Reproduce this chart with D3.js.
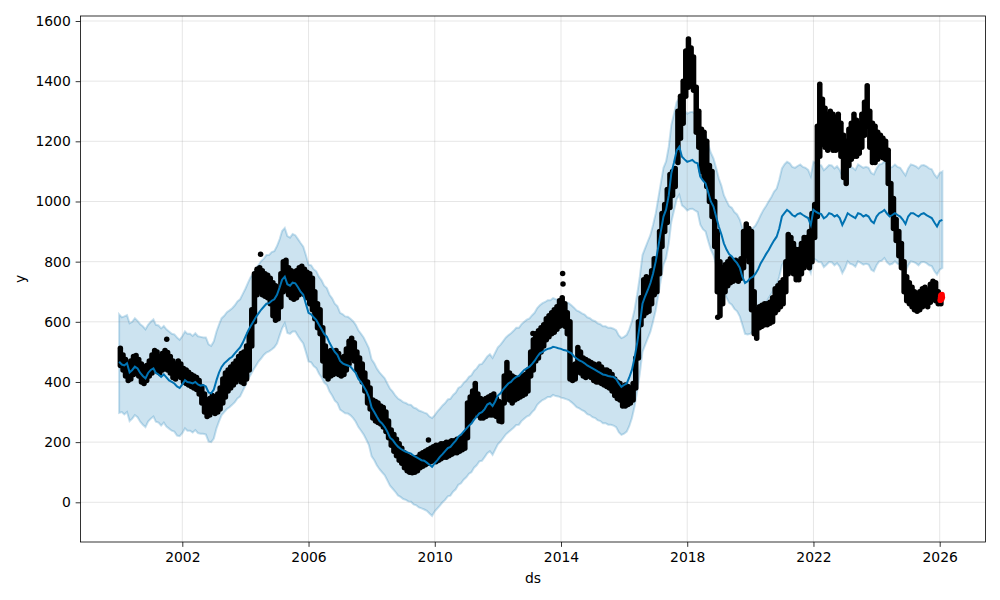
<!DOCTYPE html>
<html><head><meta charset="utf-8">
<script src="https://cdn.jsdelivr.net/npm/d3@7"></script>
<style>body{margin:0;background:#fff}svg{display:block}text{font-family:"DejaVu Sans",sans-serif}</style>
</head><body><svg id="chart" width="1000" height="600"></svg>
<script>
// Monthly observations, Jan 2000 .. Jan 2026 (low / high of the daily points in each month)
const obsLo = [
455,440,420,405,410,425,430,420,400,395,405,420,
430,445,440,430,440,445,440,430,415,410,420,415,
400,395,390,385,380,375,360,330,300,285,290,300,
295,300,310,330,350,370,380,390,400,410,400,395,
410,440,520,600,690,700,690,685,680,660,620,605,
610,650,700,710,690,680,675,680,690,700,690,680,
660,640,610,580,560,470,420,410,420,425,430,425,
420,425,440,460,480,470,440,420,400,370,330,310,
280,270,265,260,250,235,215,190,170,155,140,130,
115,105,100,98,100,105,115,120,125,130,135,140,
135,140,145,150,150,155,160,165,165,170,175,180,
215,270,285,300,290,280,280,285,290,290,290,285,
270,268,330,390,340,330,340,345,350,355,360,370,
420,440,470,480,500,520,540,550,560,565,575,585,
590,585,560,410,405,410,440,430,420,415,420,415,
405,400,400,395,390,385,380,370,355,345,340,320,
320,325,330,340,380,480,590,620,630,635,660,690,
700,760,850,900,930,980,1020,1050,1130,1210,1260,1350,
1380,1390,1370,1230,1180,1100,1080,1050,1000,950,850,700,
620,660,700,720,730,735,740,735,745,780,820,800,
640,560,545,580,585,590,590,595,600,630,640,650,
660,700,760,780,760,740,740,760,780,790,780,800,
880,950,1150,1190,1180,1170,1180,1170,1170,1175,1150,1080,
1060,1120,1140,1150,1150,1160,1180,1220,1250,1180,1130,1130,
1140,1150,1145,1140,1060,960,910,870,820,780,700,670,
660,650,640,635,640,650,660,650,665,675,670,660,
660];
const obsHi = [
512,490,475,460,470,485,488,475,460,450,455,470,
490,505,500,485,495,505,498,485,470,460,470,460,
445,440,432,425,420,415,405,385,360,340,345,355,
350,360,380,410,430,440,450,460,470,485,495,500,
520,560,640,760,775,780,770,760,755,745,730,720,
700,760,800,805,780,770,765,770,780,785,775,765,
760,745,700,660,640,580,520,500,505,500,505,495,
480,485,510,535,545,530,500,480,460,430,400,380,
340,335,330,320,315,300,270,240,225,210,195,180,
165,155,150,145,148,150,160,165,170,175,180,185,
190,190,195,195,200,200,205,205,210,210,215,225,
330,350,370,390,360,345,340,345,350,355,360,345,
335,330,420,465,430,420,415,410,415,420,425,440,
500,540,560,570,580,590,610,620,630,640,650,670,
680,660,630,600,455,460,515,500,480,475,470,465,
460,455,460,450,440,440,435,425,410,400,395,380,
390,385,380,395,480,600,680,740,750,745,770,810,
800,900,960,990,1040,1090,1100,1110,1300,1350,1400,1500,
1540,1510,1480,1380,1300,1240,1230,1200,1120,1100,1000,900,
800,780,790,800,810,800,805,800,810,900,925,910,
900,700,640,650,655,660,660,665,680,710,720,730,
740,800,890,880,860,840,840,860,880,880,900,960,
990,1250,1390,1340,1310,1290,1300,1290,1280,1290,1260,1220,
1200,1240,1260,1290,1270,1260,1290,1330,1385,1300,1260,1250,
1230,1220,1210,1200,1170,1060,1010,940,900,860,800,750,
730,715,700,690,700,710,715,705,725,735,730,700,
690];
// Isolated observed points
const extraDates = ["2001-07-05","2004-06-25","2009-10-20","2011-04-15","2013-02-10","2014-01-20","2014-01-24","2018-12-20"];
const extraValues = [542,825,207,395,561,761,726,615];
// Held-out points (red)
const redDates = ["2026-01-08","2026-01-12","2026-01-15","2026-01-20","2026-01-23","2026-01-27","2026-01-30"];
const redValues = [672,680,688,684,676,690,682];
// Forecast, monthly Jan 2000 .. Feb 2026
const yhat = [
467,458,455,462,432,440,451,445,430,420,412,430,
440,445,430,425,417,425,415,405,400,395,385,380,
392,406,400,398,395,400,392,388,390,385,365,362,
375,406,430,450,462,470,478,484,495,505,515,530,
550,570,585,600,615,628,640,650,660,662,670,675,
690,715,740,750,725,720,730,728,715,700,690,660,
630,625,615,606,590,575,560,550,530,515,500,490,
470,462,458,455,451,440,430,410,400,385,370,350,
315,300,285,270,262,250,235,215,207,195,185,178,
173,168,165,162,155,150,145,140,138,132,125,118,
130,140,151,160,170,180,184,195,205,218,225,235,
245,255,262,275,285,296,300,310,325,330,320,335,
355,362,375,385,395,400,410,417,420,430,440,445,
451,460,470,484,495,500,506,510,512,517,515,512,
510,506,505,500,495,485,478,472,468,462,455,450,
445,440,435,430,425,423,420,418,417,410,395,384,
390,395,415,440,480,530,590,660,685,705,729,760,
800,851,900,950,973,1020,1094,1130,1170,1182,1149,1140,
1132,1135,1138,1130,1127,1083,1070,1060,1030,1000,983,950,
917,890,861,840,825,817,805,795,780,750,729,735,
745,750,760,775,795,810,825,839,855,870,883,910,
950,962,972,965,955,950,958,961,955,950,945,922,
972,965,961,958,944,950,961,958,950,955,945,922,
940,961,955,950,945,961,958,950,955,950,935,928,
950,961,965,972,960,950,955,961,955,950,939,925,
950,961,961,955,950,958,961,955,950,945,930,917,
935,939];
const yUpper = [
625,615,618,622,595,600,612,603,592,585,575,590,
600,608,590,588,578,586,575,568,560,558,548,540,
552,568,560,560,553,562,552,550,548,548,525,520,
535,568,590,612,620,632,638,645,655,668,675,692,
710,730,748,760,778,788,802,810,822,822,832,835,
852,875,902,912,885,880,892,888,875,862,850,822,
790,788,775,768,750,738,720,712,690,678,660,652,
630,625,618,617,610,602,590,572,560,548,530,512,
475,462,445,432,422,412,395,378,368,355,345,340,
333,330,325,324,315,312,305,302,298,295,285,280,
290,302,311,322,330,342,344,357,365,380,385,397,
405,417,422,437,445,458,460,472,485,492,480,497,
515,524,535,547,555,562,570,580,580,592,600,607,
611,622,630,646,655,662,666,672,672,679,675,674,
670,668,665,662,655,647,638,634,628,624,615,612,
605,602,595,592,585,585,580,580,577,572,555,546,
550,557,575,602,640,692,750,822,845,867,889,922,
960,1013,1060,1112,1133,1182,1254,1292,1330,1344,1309,1302,
1292,1297,1298,1292,1287,1245,1230,1222,1190,1162,1143,1112,
1077,1052,1021,1002,985,979,965,957,940,912,889,897,
905,912,920,937,955,972,985,1001,1015,1032,1043,1072,
1110,1124,1132,1127,1115,1112,1118,1123,1115,1112,1105,1084,
1132,1127,1121,1120,1104,1112,1121,1120,1110,1117,1105,1084,
1100,1123,1115,1112,1105,1123,1118,1112,1115,1112,1095,1090,
1110,1123,1125,1134,1120,1112,1115,1123,1115,1112,1099,1087,
1110,1123,1121,1117,1110,1120,1121,1117,1110,1107,1090,1079,
1095,1100];
const yLower = [
297,300,292,300,270,278,290,283,268,258,250,268,
278,285,268,265,255,265,252,245,238,235,222,220,
230,246,238,238,232,240,230,228,228,225,202,200,
212,246,268,290,300,310,316,324,333,345,352,370,
388,410,423,440,453,468,478,490,498,502,508,515,
528,555,578,595,563,560,568,568,553,540,528,500,
468,465,453,446,428,415,398,390,368,355,338,330,
308,302,296,295,289,280,268,250,238,225,208,190,
153,140,123,110,100,90,73,55,45,35,23,18,
11,8,3,2,-7,-10,-17,-20,-24,-28,-37,-45,
-30,-20,-11,0,8,20,22,35,43,58,63,75,
83,95,100,115,123,136,138,150,163,170,158,175,
193,202,213,225,233,240,248,257,258,270,278,285,
289,300,308,324,333,340,344,350,350,357,353,352,
348,346,343,340,333,325,316,312,306,302,293,290,
283,280,273,270,263,263,258,258,255,250,233,224,
228,235,253,280,318,370,428,500,523,545,567,600,
638,691,738,790,811,860,932,970,1008,1022,987,980,
970,975,976,970,965,923,908,900,868,840,821,790,
755,730,699,680,663,657,643,635,618,590,560,558,
560,570,598,615,633,650,663,679,693,710,721,750,
788,802,810,805,793,790,796,801,793,790,783,762,
810,805,799,798,782,790,799,798,788,795,783,762,
778,801,793,790,783,801,796,790,793,790,773,768,
788,801,803,812,798,790,793,801,793,790,777,765,
788,801,799,795,788,798,799,795,788,785,768,757,
773,779];
const xTickYears = [2002,2006,2010,2014,2018,2022,2026];
const yTickValues = [0,200,400,600,800,1000,1200,1400,1600];

const svg = d3.select("#chart");
const L = 80.5, R = 985.5, T = 16, B = 542;
const x = d3.scaleUtc().domain([new Date(Date.UTC(2002,0,1)), new Date(Date.UTC(2026,0,1))]).range([182.3, 939.7]);
const y = d3.scaleLinear().domain([0,1600]).range([502.3, 21]);
const fdates = yhat.map((_, i) => new Date(Date.UTC(2000, i, 1)));
const odates = obsLo.map((_, i) => new Date(Date.UTC(2000, i, 15)));
const pd = s => new Date(s + "T00:00:00Z");

svg.append("rect").attr("width",1000).attr("height",600).attr("fill","#fff");
svg.append("defs").append("clipPath").attr("id","clip").append("rect")
  .attr("x",L).attr("y",T).attr("width",R-L).attr("height",B-T);
const g = svg.append("g").attr("clip-path","url(#clip)");

// uncertainty band
const band = fdates.map((d,i)=>({d, lo:yLower[i], hi:yUpper[i]}));
g.append("path").datum(band)
  .attr("d", d3.area().x(p=>x(p.d)).y0(p=>y(p.lo)).y1(p=>y(p.hi)))
  .attr("fill","rgba(0,114,178,0.2)").attr("stroke","rgba(0,114,178,0.22)").attr("stroke-width",2);

// grid
g.selectAll(".gx").data(xTickYears).enter().append("line")
  .attr("x1",d=>x(new Date(Date.UTC(d,0,1)))).attr("x2",d=>x(new Date(Date.UTC(d,0,1))))
  .attr("y1",T).attr("y2",B).attr("stroke","rgba(128,128,128,0.2)").attr("stroke-width",1);
g.selectAll(".gy").data(yTickValues).enter().append("line")
  .attr("x1",L).attr("x2",R).attr("y1",d=>y(d)).attr("y2",d=>y(d))
  .attr("stroke","rgba(128,128,128,0.2)").attr("stroke-width",1);

// observed points (monthly spread)
g.selectAll(".obs").data(odates).enter().append("line")
  .attr("x1",d=>x(d)).attr("x2",d=>x(d))
  .attr("y1",(d,i)=>y(obsLo[i])).attr("y2",(d,i)=>y(obsHi[i]))
  .attr("stroke","#000").attr("stroke-width",5.5).attr("stroke-linecap","round");
g.selectAll(".ext").data(extraDates).enter().append("circle")
  .attr("cx",d=>x(pd(d))).attr("cy",(d,i)=>y(extraValues[i])).attr("r",2.75).attr("fill","#000");

// forecast line
g.append("path").datum(fdates.map((d,i)=>({d, v:yhat[i]})))
  .attr("d", d3.line().x(p=>x(p.d)).y(p=>y(p.v)))
  .attr("fill","none").attr("stroke","#0072B2").attr("stroke-width",2);

// red points
g.selectAll(".red").data(redDates).enter().append("circle")
  .attr("cx",d=>x(pd(d))).attr("cy",(d,i)=>y(redValues[i])).attr("r",2.9).attr("fill","#ff0000");

// axes
const fs = "13.9px";
const xa = svg.append("g").attr("transform",`translate(0,${B})`)
  .call(d3.axisBottom(x).tickValues(xTickYears.map(v=>new Date(Date.UTC(v,0,1))))
    .tickFormat(d3.utcFormat("%Y")).tickSize(4.86).tickPadding(4.86).tickSizeOuter(0));
const ya = svg.append("g").attr("transform",`translate(${L},0)`)
  .call(d3.axisLeft(y).tickValues(yTickValues).tickFormat(d3.format("d")).tickSize(4.86).tickPadding(4.86).tickSizeOuter(0));
[xa,ya].forEach(a=>{
  a.select(".domain").remove();
  a.selectAll(".tick line").attr("stroke","#000").attr("stroke-width",0.8);
  a.selectAll("text").attr("font-family","DejaVu Sans").attr("font-size",fs).attr("fill","#000");
});
svg.append("rect").attr("x",L).attr("y",T).attr("width",R-L).attr("height",B-T)
  .attr("fill","none").attr("stroke","#000").attr("stroke-width",0.8);

svg.append("text").attr("x",(L+R)/2).attr("y",582.5).attr("text-anchor","middle")
  .attr("font-size",fs).attr("fill","#000").text("ds");
svg.append("text").attr("transform",`translate(24.5,${(T+B)/2}) rotate(-90)`).attr("text-anchor","middle")
  .attr("font-size",fs).attr("fill","#000").text("y");
</script></body></html>
